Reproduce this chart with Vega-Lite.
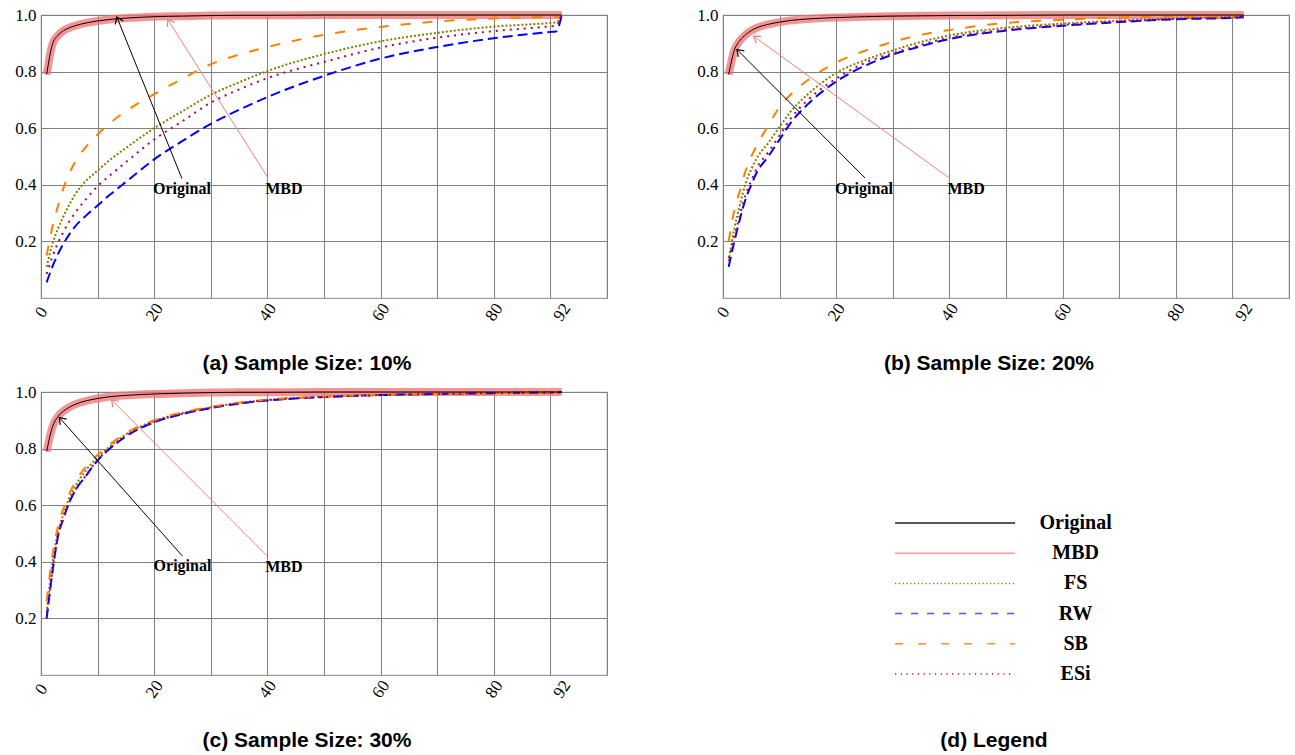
{
  "$schema": "https://vega.github.io/schema/vega-lite/v6.json",
  "background": "white",
  "padding": {"left": 14, "top": -2, "right": 0, "bottom": 0},
  "autosize": {"type": "pad"},
  "config": {
    "view": {"stroke": "#a0a0a0", "strokeWidth": 1.2},
    "title": {"font": "Liberation Sans", "fontSize": 21, "fontWeight": "bold", "color": "#000000", "anchor": "middle"},
    "axis": {"labelFont": "Liberation Serif", "labelFontSize": 17, "labelColor": "#000000", "ticks": false, "domain": false, "gridColor": "#808080", "gridWidth": 1, "labelOverlap": false, "labelBound": false}
  },
  "resolve": {"scale": {"color": "independent", "strokeDash": "independent"}},
  "columns": 2,
  "spacing": {"row": 0, "column": 81},
  "datasets": {
    "curves": [
      {"p":"a","x":1,"Original":0.79,"MBD":0.79,"FS":0.11,"RW":0.055,"SB":0.15,"ESi":0.085},
      {"p":"a","x":2,"Original":0.895,"MBD":0.895,"FS":0.19,"RW":0.11,"SB":0.25,"ESi":0.145},
      {"p":"a","x":3,"Original":0.928,"MBD":0.928,"FS":0.245,"RW":0.155,"SB":0.325,"ESi":0.195},
      {"p":"a","x":4,"Original":0.945,"MBD":0.945,"FS":0.29,"RW":0.193,"SB":0.39,"ESi":0.235},
      {"p":"a","x":5,"Original":0.955,"MBD":0.955,"FS":0.33,"RW":0.225,"SB":0.44,"ESi":0.27},
      {"p":"a","x":6,"Original":0.962,"MBD":0.962,"FS":0.365,"RW":0.252,"SB":0.48,"ESi":0.3},
      {"p":"a","x":8,"Original":0.972,"MBD":0.972,"FS":0.415,"RW":0.292,"SB":0.535,"ESi":0.35},
      {"p":"a","x":10,"Original":0.979,"MBD":0.979,"FS":0.45,"RW":0.327,"SB":0.578,"ESi":0.395},
      {"p":"a","x":12,"Original":0.984,"MBD":0.984,"FS":0.485,"RW":0.362,"SB":0.615,"ESi":0.43},
      {"p":"a","x":15,"Original":0.989,"MBD":0.989,"FS":0.53,"RW":0.41,"SB":0.66,"ESi":0.48},
      {"p":"a","x":20,"Original":0.994,"MBD":0.994,"FS":0.6,"RW":0.49,"SB":0.72,"ESi":0.56},
      {"p":"a","x":25,"Original":0.996,"MBD":0.996,"FS":0.66,"RW":0.555,"SB":0.775,"ESi":0.625},
      {"p":"a","x":30,"Original":0.998,"MBD":0.998,"FS":0.718,"RW":0.615,"SB":0.826,"ESi":0.69},
      {"p":"a","x":35,"Original":0.999,"MBD":0.999,"FS":0.762,"RW":0.665,"SB":0.86,"ESi":0.737},
      {"p":"a","x":40,"Original":0.999,"MBD":0.999,"FS":0.802,"RW":0.71,"SB":0.887,"ESi":0.777},
      {"p":"a","x":50,"Original":1,"MBD":1,"FS":0.862,"RW":0.785,"SB":0.93,"ESi":0.834},
      {"p":"a","x":60,"Original":1,"MBD":1,"FS":0.907,"RW":0.846,"SB":0.958,"ESi":0.885},
      {"p":"a","x":70,"Original":1,"MBD":1,"FS":0.937,"RW":0.887,"SB":0.977,"ESi":0.92},
      {"p":"a","x":80,"Original":1,"MBD":1,"FS":0.959,"RW":0.918,"SB":0.988,"ESi":0.943},
      {"p":"a","x":90,"Original":1,"MBD":1,"FS":0.972,"RW":0.94,"SB":0.994,"ESi":0.96},
      {"p":"a","x":91,"Original":1,"MBD":1,"FS":0.974,"RW":0.942,"SB":0.995,"ESi":0.962},
      {"p":"a","x":92,"Original":1,"MBD":1,"FS":1,"RW":1,"SB":1,"ESi":1},
      {"p":"b","x":1,"Original":0.79,"MBD":0.79,"FS":0.13,"RW":0.11,"SB":0.2,"ESi":0.14},
      {"p":"b","x":2,"Original":0.875,"MBD":0.875,"FS":0.245,"RW":0.2,"SB":0.31,"ESi":0.215},
      {"p":"b","x":3,"Original":0.91,"MBD":0.91,"FS":0.33,"RW":0.28,"SB":0.38,"ESi":0.295},
      {"p":"b","x":4,"Original":0.93,"MBD":0.93,"FS":0.405,"RW":0.35,"SB":0.45,"ESi":0.365},
      {"p":"b","x":5,"Original":0.945,"MBD":0.945,"FS":0.455,"RW":0.4,"SB":0.5,"ESi":0.415},
      {"p":"b","x":6,"Original":0.955,"MBD":0.955,"FS":0.495,"RW":0.445,"SB":0.54,"ESi":0.46},
      {"p":"b","x":8,"Original":0.967,"MBD":0.967,"FS":0.548,"RW":0.5,"SB":0.61,"ESi":0.515},
      {"p":"b","x":10,"Original":0.975,"MBD":0.975,"FS":0.605,"RW":0.56,"SB":0.675,"ESi":0.575},
      {"p":"b","x":12,"Original":0.981,"MBD":0.981,"FS":0.66,"RW":0.62,"SB":0.72,"ESi":0.635},
      {"p":"b","x":15,"Original":0.986,"MBD":0.986,"FS":0.72,"RW":0.685,"SB":0.77,"ESi":0.7},
      {"p":"b","x":20,"Original":0.991,"MBD":0.991,"FS":0.795,"RW":0.765,"SB":0.832,"ESi":0.775},
      {"p":"b","x":25,"Original":0.994,"MBD":0.994,"FS":0.84,"RW":0.82,"SB":0.873,"ESi":0.83},
      {"p":"b","x":30,"Original":0.996,"MBD":0.996,"FS":0.875,"RW":0.86,"SB":0.905,"ESi":0.865},
      {"p":"b","x":35,"Original":0.997,"MBD":0.997,"FS":0.905,"RW":0.89,"SB":0.93,"ESi":0.895},
      {"p":"b","x":40,"Original":0.998,"MBD":0.998,"FS":0.928,"RW":0.915,"SB":0.947,"ESi":0.92},
      {"p":"b","x":50,"Original":0.999,"MBD":0.999,"FS":0.955,"RW":0.945,"SB":0.972,"ESi":0.948},
      {"p":"b","x":60,"Original":1,"MBD":1,"FS":0.97,"RW":0.962,"SB":0.983,"ESi":0.965},
      {"p":"b","x":70,"Original":1,"MBD":1,"FS":0.98,"RW":0.975,"SB":0.991,"ESi":0.977},
      {"p":"b","x":80,"Original":1,"MBD":1,"FS":0.988,"RW":0.985,"SB":0.995,"ESi":0.986},
      {"p":"b","x":90,"Original":1,"MBD":1,"FS":0.993,"RW":0.99,"SB":0.997,"ESi":0.992},
      {"p":"b","x":91,"Original":1,"MBD":1,"FS":0.994,"RW":0.991,"SB":0.998,"ESi":0.993},
      {"p":"b","x":92,"Original":1,"MBD":1,"FS":0.996,"RW":0.994,"SB":1,"ESi":0.996},
      {"p":"c","x":1,"Original":0.79,"MBD":0.79,"FS":0.22,"RW":0.2,"SB":0.26,"ESi":0.2},
      {"p":"c","x":2,"Original":0.875,"MBD":0.875,"FS":0.39,"RW":0.36,"SB":0.42,"ESi":0.365},
      {"p":"c","x":3,"Original":0.913,"MBD":0.913,"FS":0.505,"RW":0.49,"SB":0.525,"ESi":0.49},
      {"p":"c","x":4,"Original":0.933,"MBD":0.933,"FS":0.57,"RW":0.555,"SB":0.59,"ESi":0.555},
      {"p":"c","x":5,"Original":0.946,"MBD":0.946,"FS":0.625,"RW":0.61,"SB":0.64,"ESi":0.61},
      {"p":"c","x":6,"Original":0.956,"MBD":0.956,"FS":0.665,"RW":0.65,"SB":0.68,"ESi":0.65},
      {"p":"c","x":8,"Original":0.969,"MBD":0.969,"FS":0.725,"RW":0.705,"SB":0.738,"ESi":0.707},
      {"p":"c","x":10,"Original":0.977,"MBD":0.977,"FS":0.77,"RW":0.758,"SB":0.778,"ESi":0.76},
      {"p":"c","x":12,"Original":0.983,"MBD":0.983,"FS":0.805,"RW":0.797,"SB":0.812,"ESi":0.798},
      {"p":"c","x":15,"Original":0.988,"MBD":0.988,"FS":0.85,"RW":0.843,"SB":0.855,"ESi":0.845},
      {"p":"c","x":20,"Original":0.993,"MBD":0.993,"FS":0.898,"RW":0.893,"SB":0.9,"ESi":0.894},
      {"p":"c","x":25,"Original":0.996,"MBD":0.996,"FS":0.926,"RW":0.922,"SB":0.928,"ESi":0.923},
      {"p":"c","x":30,"Original":0.998,"MBD":0.998,"FS":0.946,"RW":0.943,"SB":0.948,"ESi":0.944},
      {"p":"c","x":35,"Original":0.999,"MBD":0.999,"FS":0.961,"RW":0.959,"SB":0.962,"ESi":0.96},
      {"p":"c","x":40,"Original":0.999,"MBD":0.999,"FS":0.972,"RW":0.97,"SB":0.973,"ESi":0.971},
      {"p":"c","x":50,"Original":1,"MBD":1,"FS":0.983,"RW":0.982,"SB":0.984,"ESi":0.982},
      {"p":"c","x":60,"Original":1,"MBD":1,"FS":0.99,"RW":0.989,"SB":0.99,"ESi":0.989},
      {"p":"c","x":70,"Original":1,"MBD":1,"FS":0.994,"RW":0.993,"SB":0.994,"ESi":0.993},
      {"p":"c","x":80,"Original":1,"MBD":1,"FS":0.996,"RW":0.996,"SB":0.996,"ESi":0.996},
      {"p":"c","x":90,"Original":1,"MBD":1,"FS":0.998,"RW":0.998,"SB":0.998,"ESi":0.998},
      {"p":"c","x":91,"Original":1,"MBD":1,"FS":0.999,"RW":0.998,"SB":0.999,"ESi":0.999},
      {"p":"c","x":92,"Original":1,"MBD":1,"FS":1,"RW":1,"SB":1,"ESi":1}
    ],
    "notes": [
      {"p":"a","who":"Original","tx":24.9,"ty":0.422,"hx":13.4,"hy":0.993,"lx":24.9,"ly":0.366},
      {"p":"a","who":"MBD","tx":40.0,"ty":0.428,"hx":22.4,"hy":0.984,"lx":42.9,"ly":0.366},
      {"p":"b","who":"Original","tx":25.1,"ty":0.424,"hx":2.47,"hy":0.878,"lx":24.9,"ly":0.366},
      {"p":"b","who":"MBD","tx":40.1,"ty":0.422,"hx":5.42,"hy":0.925,"lx":42.95,"ly":0.366},
      {"p":"c","who":"Original","tx":25.0,"ty":0.42,"hx":3.24,"hy":0.91,"lx":25.0,"ly":0.368},
      {"p":"c","who":"MBD","tx":40.0,"ty":0.42,"hx":12.47,"hy":0.972,"lx":42.9,"ly":0.363}
    ],
    "legend": [
      {"series":"Original"},{"series":"MBD"},{"series":"FS"},{"series":"RW"},{"series":"SB"},{"series":"ESi"}
    ]
  },
  "concat": [
    {
      "width": 566, "height": 283,
      "title": {"text": "(a) Sample Size: 10%", "orient": "bottom", "offset": 29, "dx": -17},
      "layer": [
        {
          "data": {"name": "curves"},
          "transform": [{"filter": "datum.p == 'a'"}, {"fold": ["MBD"], "as": ["series", "y"]}],
          "mark": {"type": "line", "interpolate": "monotone", "stroke": "#f07070", "strokeWidth": 8, "strokeOpacity": 0.75},
          "encoding": {
            "x": {"field": "x", "type": "quantitative", "scale": {"domain": [0, 100], "nice": false},
                  "axis": {"title": null, "values": [0, 10, 20, 30, 40, 50, 60, 70, 80, 90, 92, 100], "grid": true,
                           "labelExpr": "(datum.value % 20 == 0 && datum.value < 100) || datum.value == 92 ? datum.label : ''",
                           "gridOpacity": {"condition": {"test": "datum.value == 92", "value": 0}, "value": 1},
                           "labelAngle": -55, "labelAlign": "center", "labelBaseline": "middle", "labelPadding": 14}},
            "y": {"field": "y", "type": "quantitative", "scale": {"domain": [0, 1], "nice": false},
                  "axis": {"title": null, "values": [0.2, 0.4, 0.6, 0.8, 1.0], "format": ".1f", "grid": true, "labelPadding": 5}}
          }
        },
        {
          "data": {"name": "curves"},
          "transform": [{"filter": "datum.p == 'a'"}, {"fold": ["FS", "RW", "SB", "ESi"], "as": ["series", "y"]}],
          "mark": {"type": "line", "interpolate": "monotone", "strokeWidth": 2},
          "encoding": {
            "x": {"field": "x", "type": "quantitative", "axis": {"title": null}},
            "y": {"field": "y", "type": "quantitative", "axis": {"title": null}},
            "color": {"field": "series", "type": "nominal", "legend": null,
                      "scale": {"domain": ["Original", "MBD", "FS", "RW", "SB", "ESi"], "range": ["#000000", "#f08080", "#808000", "#0000ff", "#ff8000", "#bf0040"]}},
            "strokeDash": {"field": "series", "type": "nominal", "legend": null,
                      "scale": {"domain": ["Original", "MBD", "FS", "RW", "SB", "ESi"], "range": [[1, 0], [1, 0], [2, 2], [10, 5], [10, 12], [2, 5]]}}
          }
        },
        {
          "data": {"name": "curves"},
          "transform": [{"filter": "datum.p == 'a'"}, {"fold": ["Original"], "as": ["series", "y"]}],
          "mark": {"type": "line", "interpolate": "monotone", "stroke": "#000000", "strokeWidth": 1},
          "encoding": {
            "x": {"field": "x", "type": "quantitative", "axis": {"title": null}},
            "y": {"field": "y", "type": "quantitative", "axis": {"title": null}}
          }
        },
        {
          "data": {"name": "notes"},
          "transform": [{"filter": "datum.p == 'a'"}],
          "mark": {"type": "rule", "strokeWidth": 1},
          "encoding": {
            "x": {"field": "tx", "type": "quantitative", "axis": {"title": null}},
            "y": {"field": "ty", "type": "quantitative", "axis": {"title": null}},
            "x2": {"field": "hx"}, "y2": {"field": "hy"},
            "color": {"field": "who", "type": "nominal", "legend": null}
          }
        },
        {
          "data": {"name": "notes"},
          "transform": [{"filter": "datum.p == 'a'"}, {"calculate": "atan2((datum.hx - datum.tx) * 5.667, (datum.hy - datum.ty) * 283) * 180 / PI", "as": "ang"}],
          "mark": {"type": "point", "shape": "M-0.7,1L0,0L0.7,1", "filled": false, "size": 150, "strokeWidth": 1.2, "opacity": 1},
          "encoding": {
            "x": {"field": "hx", "type": "quantitative", "axis": {"title": null}},
            "y": {"field": "hy", "type": "quantitative", "axis": {"title": null}},
            "angle": {"field": "ang", "type": "quantitative", "scale": null},
            "color": {"field": "who", "type": "nominal", "legend": null}
          }
        },
        {
          "data": {"name": "notes"},
          "transform": [{"filter": "datum.p == 'a'"}],
          "mark": {"type": "text", "font": "Liberation Serif", "fontWeight": "bold", "fontSize": 16, "color": "#000000", "align": "center", "baseline": "alphabetic"},
          "encoding": {
            "x": {"field": "lx", "type": "quantitative", "axis": {"title": null}},
            "y": {"field": "ly", "type": "quantitative", "axis": {"title": null}},
            "text": {"field": "who"}
          }
        }
      ]
    },
    {
      "width": 566, "height": 283,
      "title": {"text": "(b) Sample Size: 20%", "orient": "bottom", "offset": 29, "dx": -17},
      "layer": [
        {
          "data": {"name": "curves"},
          "transform": [{"filter": "datum.p == 'b'"}, {"fold": ["MBD"], "as": ["series", "y"]}],
          "mark": {"type": "line", "interpolate": "monotone", "stroke": "#f07070", "strokeWidth": 8, "strokeOpacity": 0.75},
          "encoding": {
            "x": {"field": "x", "type": "quantitative", "scale": {"domain": [0, 100], "nice": false},
                  "axis": {"title": null, "values": [0, 10, 20, 30, 40, 50, 60, 70, 80, 90, 92, 100], "grid": true,
                           "labelExpr": "(datum.value % 20 == 0 && datum.value < 100) || datum.value == 92 ? datum.label : ''",
                           "gridOpacity": {"condition": {"test": "datum.value == 92", "value": 0}, "value": 1},
                           "labelAngle": -55, "labelAlign": "center", "labelBaseline": "middle", "labelPadding": 14}},
            "y": {"field": "y", "type": "quantitative", "scale": {"domain": [0, 1], "nice": false},
                  "axis": {"title": null, "values": [0.2, 0.4, 0.6, 0.8, 1.0], "format": ".1f", "grid": true, "labelPadding": 5}}
          }
        },
        {
          "data": {"name": "curves"},
          "transform": [{"filter": "datum.p == 'b'"}, {"fold": ["FS", "RW", "SB", "ESi"], "as": ["series", "y"]}],
          "mark": {"type": "line", "interpolate": "monotone", "strokeWidth": 2},
          "encoding": {
            "x": {"field": "x", "type": "quantitative", "axis": {"title": null}},
            "y": {"field": "y", "type": "quantitative", "axis": {"title": null}},
            "color": {"field": "series", "type": "nominal", "legend": null,
                      "scale": {"domain": ["Original", "MBD", "FS", "RW", "SB", "ESi"], "range": ["#000000", "#f08080", "#808000", "#0000ff", "#ff8000", "#bf0040"]}},
            "strokeDash": {"field": "series", "type": "nominal", "legend": null,
                      "scale": {"domain": ["Original", "MBD", "FS", "RW", "SB", "ESi"], "range": [[1, 0], [1, 0], [2, 2], [10, 5], [10, 12], [2, 5]]}}
          }
        },
        {
          "data": {"name": "curves"},
          "transform": [{"filter": "datum.p == 'b'"}, {"fold": ["Original"], "as": ["series", "y"]}],
          "mark": {"type": "line", "interpolate": "monotone", "stroke": "#000000", "strokeWidth": 1},
          "encoding": {
            "x": {"field": "x", "type": "quantitative", "axis": {"title": null}},
            "y": {"field": "y", "type": "quantitative", "axis": {"title": null}}
          }
        },
        {
          "data": {"name": "notes"},
          "transform": [{"filter": "datum.p == 'b'"}],
          "mark": {"type": "rule", "strokeWidth": 1},
          "encoding": {
            "x": {"field": "tx", "type": "quantitative", "axis": {"title": null}},
            "y": {"field": "ty", "type": "quantitative", "axis": {"title": null}},
            "x2": {"field": "hx"}, "y2": {"field": "hy"},
            "color": {"field": "who", "type": "nominal", "legend": null}
          }
        },
        {
          "data": {"name": "notes"},
          "transform": [{"filter": "datum.p == 'b'"}, {"calculate": "atan2((datum.hx - datum.tx) * 5.667, (datum.hy - datum.ty) * 283) * 180 / PI", "as": "ang"}],
          "mark": {"type": "point", "shape": "M-0.7,1L0,0L0.7,1", "filled": false, "size": 150, "strokeWidth": 1.2, "opacity": 1},
          "encoding": {
            "x": {"field": "hx", "type": "quantitative", "axis": {"title": null}},
            "y": {"field": "hy", "type": "quantitative", "axis": {"title": null}},
            "angle": {"field": "ang", "type": "quantitative", "scale": null},
            "color": {"field": "who", "type": "nominal", "legend": null}
          }
        },
        {
          "data": {"name": "notes"},
          "transform": [{"filter": "datum.p == 'b'"}],
          "mark": {"type": "text", "font": "Liberation Serif", "fontWeight": "bold", "fontSize": 16, "color": "#000000", "align": "center", "baseline": "alphabetic"},
          "encoding": {
            "x": {"field": "lx", "type": "quantitative", "axis": {"title": null}},
            "y": {"field": "ly", "type": "quantitative", "axis": {"title": null}},
            "text": {"field": "who"}
          }
        }
      ]
    },
    {
      "width": 566, "height": 283,
      "title": {"text": "(c) Sample Size: 30%", "orient": "bottom", "offset": 29, "dx": -17},
      "layer": [
        {
          "data": {"name": "curves"},
          "transform": [{"filter": "datum.p == 'c'"}, {"fold": ["MBD"], "as": ["series", "y"]}],
          "mark": {"type": "line", "interpolate": "monotone", "stroke": "#f07070", "strokeWidth": 8, "strokeOpacity": 0.75},
          "encoding": {
            "x": {"field": "x", "type": "quantitative", "scale": {"domain": [0, 100], "nice": false},
                  "axis": {"title": null, "values": [0, 10, 20, 30, 40, 50, 60, 70, 80, 90, 92, 100], "grid": true,
                           "labelExpr": "(datum.value % 20 == 0 && datum.value < 100) || datum.value == 92 ? datum.label : ''",
                           "gridOpacity": {"condition": {"test": "datum.value == 92", "value": 0}, "value": 1},
                           "labelAngle": -55, "labelAlign": "center", "labelBaseline": "middle", "labelPadding": 14}},
            "y": {"field": "y", "type": "quantitative", "scale": {"domain": [0, 1], "nice": false},
                  "axis": {"title": null, "values": [0.2, 0.4, 0.6, 0.8, 1.0], "format": ".1f", "grid": true, "labelPadding": 5}}
          }
        },
        {
          "data": {"name": "curves"},
          "transform": [{"filter": "datum.p == 'c'"}, {"fold": ["FS", "RW", "SB", "ESi"], "as": ["series", "y"]}],
          "mark": {"type": "line", "interpolate": "monotone", "strokeWidth": 2},
          "encoding": {
            "x": {"field": "x", "type": "quantitative", "axis": {"title": null}},
            "y": {"field": "y", "type": "quantitative", "axis": {"title": null}},
            "color": {"field": "series", "type": "nominal", "legend": null,
                      "scale": {"domain": ["Original", "MBD", "FS", "RW", "SB", "ESi"], "range": ["#000000", "#f08080", "#808000", "#0000ff", "#ff8000", "#bf0040"]}},
            "strokeDash": {"field": "series", "type": "nominal", "legend": null,
                      "scale": {"domain": ["Original", "MBD", "FS", "RW", "SB", "ESi"], "range": [[1, 0], [1, 0], [2, 2], [10, 5], [10, 12], [2, 5]]}}
          }
        },
        {
          "data": {"name": "curves"},
          "transform": [{"filter": "datum.p == 'c'"}, {"fold": ["Original"], "as": ["series", "y"]}],
          "mark": {"type": "line", "interpolate": "monotone", "stroke": "#000000", "strokeWidth": 1},
          "encoding": {
            "x": {"field": "x", "type": "quantitative", "axis": {"title": null}},
            "y": {"field": "y", "type": "quantitative", "axis": {"title": null}}
          }
        },
        {
          "data": {"name": "notes"},
          "transform": [{"filter": "datum.p == 'c'"}],
          "mark": {"type": "rule", "strokeWidth": 1},
          "encoding": {
            "x": {"field": "tx", "type": "quantitative", "axis": {"title": null}},
            "y": {"field": "ty", "type": "quantitative", "axis": {"title": null}},
            "x2": {"field": "hx"}, "y2": {"field": "hy"},
            "color": {"field": "who", "type": "nominal", "legend": null}
          }
        },
        {
          "data": {"name": "notes"},
          "transform": [{"filter": "datum.p == 'c'"}, {"calculate": "atan2((datum.hx - datum.tx) * 5.667, (datum.hy - datum.ty) * 283) * 180 / PI", "as": "ang"}],
          "mark": {"type": "point", "shape": "M-0.7,1L0,0L0.7,1", "filled": false, "size": 150, "strokeWidth": 1.2, "opacity": 1},
          "encoding": {
            "x": {"field": "hx", "type": "quantitative", "axis": {"title": null}},
            "y": {"field": "hy", "type": "quantitative", "axis": {"title": null}},
            "angle": {"field": "ang", "type": "quantitative", "scale": null},
            "color": {"field": "who", "type": "nominal", "legend": null}
          }
        },
        {
          "data": {"name": "notes"},
          "transform": [{"filter": "datum.p == 'c'"}],
          "mark": {"type": "text", "font": "Liberation Serif", "fontWeight": "bold", "fontSize": 16, "color": "#000000", "align": "center", "baseline": "alphabetic"},
          "encoding": {
            "x": {"field": "lx", "type": "quantitative", "axis": {"title": null}},
            "y": {"field": "ly", "type": "quantitative", "axis": {"title": null}},
            "text": {"field": "who"}
          }
        }
      ]
    },
    {
      "width": 566, "height": 283,
      "view": {"stroke": null},
      "title": {"text": "(d) Legend", "orient": "bottom", "offset": 46, "dx": -12},
      "data": {"name": "legend"},
      "layer": [
        {
          "mark": {"type": "rule"},
          "encoding": {
            "x": {"datum": 30.4, "type": "quantitative", "scale": {"domain": [0, 100], "nice": false}, "axis": null},
            "x2": {"datum": 51.6},
            "y": {"field": "series", "type": "nominal", "sort": ["Original", "MBD", "FS", "RW", "SB", "ESi"], "scale": {"type": "point", "padding": 0, "range": [131, 282]}, "axis": null},
            "color": {"field": "series", "type": "nominal", "legend": null,
                      "scale": {"domain": ["Original", "MBD", "FS", "RW", "SB", "ESi"], "range": ["#222222", "#f59a9a", "#808000", "#5050ff", "#ff9030", "#c00040"]}},
            "strokeDash": {"field": "series", "type": "nominal", "legend": null,
                      "scale": {"domain": ["Original", "MBD", "FS", "RW", "SB", "ESi"], "range": [[1, 0], [1, 0], [1.2, 2.6], [7, 9], [8, 15], [1.2, 4.5]]}},
            "strokeWidth": {"field": "series", "type": "nominal", "legend": null,
                      "scale": {"domain": ["Original", "MBD", "FS", "RW", "SB", "ESi"], "range": [1.5, 1.5, 1.2, 2, 2, 1.2]}}
          }
        },
        {
          "mark": {"type": "text", "font": "Liberation Serif", "fontWeight": "bold", "fontSize": 20, "color": "#000000", "align": "center", "baseline": "middle"},
          "encoding": {
            "x": {"datum": 62.3, "type": "quantitative"},
            "y": {"field": "series", "type": "nominal", "sort": ["Original", "MBD", "FS", "RW", "SB", "ESi"]},
            "text": {"field": "series"}
          }
        }
      ]
    }
  ]
}
